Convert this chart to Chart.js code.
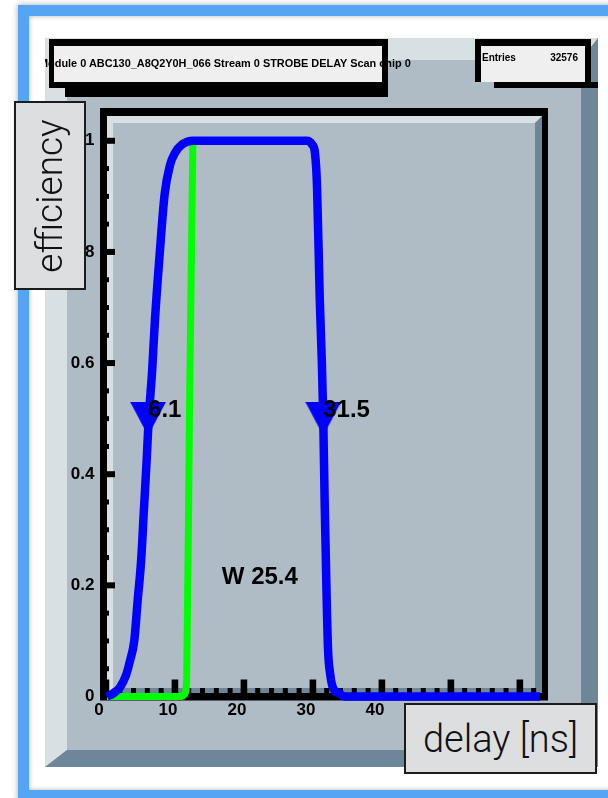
<!DOCTYPE html>
<html><head><meta charset="utf-8">
<script src="https://cdn.jsdelivr.net/npm/chart.js@4.4.0/dist/chart.umd.min.js"></script>
<style>
html,body{margin:0;padding:0;background:#fff;width:608px;height:798px;overflow:hidden;position:relative;}
#blue{position:absolute;left:18px;top:5px;width:640px;height:796px;box-sizing:border-box;border:11px solid #55a5f5;box-shadow:0 0 6px rgba(0,0,0,0.35), inset 0 0 5px rgba(0,0,0,0.3);}
#c{position:absolute;left:0;top:0;}
#clip{position:absolute;left:45px;top:38px;width:553px;height:729px;overflow:hidden;}
.blk{position:absolute;background:#000;}
.pave{position:absolute;background:#efefef;}
.txt{position:absolute;white-space:nowrap;font:bold 10px "Liberation Sans",Arial,sans-serif;line-height:12px;color:#000;}
.axbox{position:absolute;background:#dcdee0;border:2px solid #1c1c1c;box-sizing:border-box;font-family:Roboto,"Helvetica Neue","Liberation Sans",sans-serif;font-weight:300;color:#111;display:flex;align-items:center;justify-content:center;}
.axbox span{white-space:nowrap;font-size:37px;line-height:40px;}
</style></head>
<body>
<div id="blue"></div>
<canvas id="c" width="608" height="798"></canvas>
<div id="clip">
  <div class="blk" style="left:20px;top:44px;width:323px;height:15px;"></div>
  <div class="blk" style="left:4px;top:1px;width:339px;height:49px;"></div>
  <div class="pave" style="left:9px;top:8px;width:328px;height:36px;"></div>
  <div class="blk" style="left:449px;top:44px;width:104px;height:6px;"></div>
  <div class="blk" style="left:430px;top:1px;width:116px;height:43px;"></div>
  <div class="pave" style="left:436px;top:8px;width:104px;height:36px;"></div>
  <div class="txt" id="title" style="left:-6px;top:19px;">Module 0 ABC130_A8Q2Y0H_066 Stream 0 STROBE DELAY Scan chip 0</div>
  <div class="txt" style="left:437px;top:14px;">Entries</div>
  <div class="txt" style="left:480px;top:14px;width:53px;text-align:right;">32576</div>
</div>
<div class="axbox" style="left:14px;top:101px;width:72px;height:189px;"><span style="transform:rotate(-90deg);display:inline-block;">efficiency</span></div>
<div class="axbox" style="left:404px;top:703px;width:193px;height:71px;"><span style="font-size:38px;">delay [ns]</span></div>
<script>
// ---- data ----
const xTicks = [0, 10, 20, 30, 40, 50, 60];
const yTicks = [0, 0.2, 0.4, 0.6, 0.8, 1];
const yTickLabels = ['0', '0.2', '0.4', '0.6', '0.8', '1'];
const blueX = [0.15, 1.0, 2.0, 2.9, 3.5, 4.1, 4.6, 5.1, 5.5, 5.9, 6.2, 6.7, 7.1, 7.8, 8.5, 9.3, 10.0, 11.0, 12.6, 21.0, 29.1, 29.9, 30.3, 30.6, 31.0, 31.3, 31.5, 31.7, 32.0, 32.2, 32.5, 32.9, 33.9, 34.6, 48.0, 62.9];
const blueY = [0, 0.005, 0.016, 0.038, 0.065, 0.10, 0.173, 0.245, 0.335, 0.425, 0.5, 0.587, 0.677, 0.798, 0.903, 0.957, 0.978, 0.993, 1.0, 1.0, 1.0, 0.993, 0.978, 0.917, 0.713, 0.6, 0.5, 0.353, 0.173, 0.083, 0.041, 0.016, 0.005, 0, 0, 0];
const greenX = [0.15, 6, 11.0, 11.4, 11.7, 12.1, 12.6];
const greenY = [0, 0, 0, 0.004, 0.03, 0.5, 1.0];
const markerX = [6.1, 31.5];
const markerY = [0.5, 0.5];
const widthLabelPos = {x: 16.8, y: 0.215};

// fit the title text to the width it takes in the reference
(function () {
  const t = document.getElementById('title');
  const w = t.getBoundingClientRect().width;
  t.style.fontSize = (10 * 372 / w).toFixed(2) + 'px';
})();

// ---- styling ----
const FONT = '"Liberation Sans", Arial, sans-serif';
const GRAY = '#afbcc6', LIGHT = '#d9e0e4', DARK = '#6d8799';
const CA = {left: 102.5, top: 113, right: 544, bottom: 696.5};

const tri = document.createElement('canvas');
tri.width = 36; tri.height = 34;
const tc = tri.getContext('2d');
tc.fillStyle = '#0000ff';
tc.beginPath(); tc.moveTo(0, 0); tc.lineTo(36, 0); tc.lineTo(18, 34); tc.closePath(); tc.fill();

function poly(c, color, pts) {
  c.fillStyle = color; c.beginPath();
  c.moveTo(pts[0][0], pts[0][1]);
  for (let i = 1; i < pts.length; i++) c.lineTo(pts[i][0], pts[i][1]);
  c.closePath(); c.fill();
}

const rootPlugin = {
  id: 'root',
  beforeDraw(chart) {
    const c = chart.ctx;
    c.save();
    // ROOT canvas with bevel
    const L = 45, T = 38, R = 598, B = 767, bl = 22, bt = 22, br = 17, bb = 17;
    c.fillStyle = GRAY; c.fillRect(L, T, R - L, B - T);
    poly(c, LIGHT, [[L, T], [R, T], [R - br, T + bt], [L + bl, T + bt], [L + bl, B - bb], [L, B]]);
    poly(c, DARK, [[R, T], [R, B], [L, B], [L + bl, B - bb], [R - br, B - bb], [R - br, T + bt]]);
    // frame
    const a = chart.chartArea;
    c.fillStyle = '#000';
    c.fillRect(a.left - 2.5, a.top - 5, (a.right + 4) - (a.left - 2.5), (a.bottom + 4) - (a.top - 5));
    const iL = a.left + 4.5, iT = a.top + 3, iR = a.right - 2, iB = a.bottom - 3.5;
    c.fillStyle = GRAY; c.fillRect(iL, iT, iR - iL, iB - iT);
    poly(c, LIGHT, [[iL, iT], [iR, iT], [iR - 7, iT + 7], [iL + 6, iT + 7], [iL + 6, iB - 5], [iL, iB]]);
    poly(c, DARK, [[iR, iT], [iR, iB], [iL, iB], [iL + 6, iB - 5], [iR - 7, iB - 5], [iR - 7, iT + 7]]);
    // ticks
    const xs = chart.scales.x, ys = chart.scales.y;
    c.fillStyle = '#000';
    for (let v = 0; v <= 1.0001; v += 0.05) {
      const py = ys.getPixelForValue(v);
      const major = Math.abs(v * 5 - Math.round(v * 5)) < 1e-6;
      if (major) c.fillRect(a.left, py - 3, 12.5, 6);
      else c.fillRect(a.left, py - 2.5, 6.5, 5);
    }
    for (let v = 0; v <= 63; v += 2) {
      const px = xs.getPixelForValue(v);
      if (v % 10 === 0) c.fillRect(px - 3.3, a.bottom - 17, 6.6, 17);
      else c.fillRect(px - 2.5, a.bottom - 8.5, 5, 8.5);
    }
    c.restore();
  },
  afterDatasetsDraw(chart) {
    const c = chart.ctx, xs = chart.scales.x, ys = chart.scales.y;
    c.save();
    c.fillStyle = '#000';
    c.font = 'bold 24px ' + FONT;
    c.textAlign = 'left'; c.textBaseline = 'middle';
    markerX.forEach((x, i) => {
      c.fillText(x.toFixed(1), xs.getPixelForValue(x), ys.getPixelForValue(markerY[i]) - 8);
    });
    c.fillText('W ' + (markerX[1] - markerX[0]).toFixed(1), xs.getPixelForValue(widthLabelPos.x), ys.getPixelForValue(widthLabelPos.y));
    c.restore();
  }
};

const tickFont = {family: FONT, size: 17, weight: 'bold'};
new Chart(document.getElementById('c'), {
  type: 'line',
  data: {
    datasets: [
      {data: markerX.map((x, i) => ({x: x, y: markerY[i]})), showLine: false, pointStyle: tri, pointRadius: 18, pointHoverRadius: 18, clip: false},
      {data: blueX.map((x, i) => ({x: x, y: blueY[i]})), borderColor: '#0000ff', borderWidth: 8.5, pointRadius: 0, cubicInterpolationMode: 'monotone', clip: false, borderJoinStyle: 'round'},
      {data: greenX.map((x, i) => ({x: x, y: greenY[i]})), borderColor: '#00ff00', borderWidth: 7, pointRadius: 0, cubicInterpolationMode: 'monotone', clip: false, borderJoinStyle: 'round'}
    ]
  },
  options: {
    responsive: false, animation: false, devicePixelRatio: 1, events: [],
    layout: {padding: {left: 0, top: CA.top, right: 608 - CA.right, bottom: 0}},
    plugins: {legend: {display: false}, tooltip: {enabled: false}},
    scales: {
      x: {
        type: 'linear', min: -0.5, max: 63.5,
        grid: {display: false, drawTicks: false}, border: {display: false},
        afterBuildTicks: s => { s.ticks = xTicks.map(v => ({value: v})); },
        afterFit: s => { s.height = 798 - CA.bottom; },
        ticks: {autoSkip: false, maxRotation: 0, minRotation: 0, padding: 4, labelOffset: -7, color: '#000', font: tickFont, callback: (v) => String(v)}
      },
      y: {
        type: 'linear', min: 0, max: 1.05,
        grid: {display: false, drawTicks: false}, border: {display: false},
        afterBuildTicks: s => { s.ticks = yTicks.map(v => ({value: v})); },
        afterFit: s => { s.width = CA.left; },
        ticks: {autoSkip: false, padding: 8, color: '#000', font: tickFont, callback: (v, i) => yTickLabels[i]}
      }
    }
  },
  plugins: [rootPlugin]
});
</script>
</body></html>
